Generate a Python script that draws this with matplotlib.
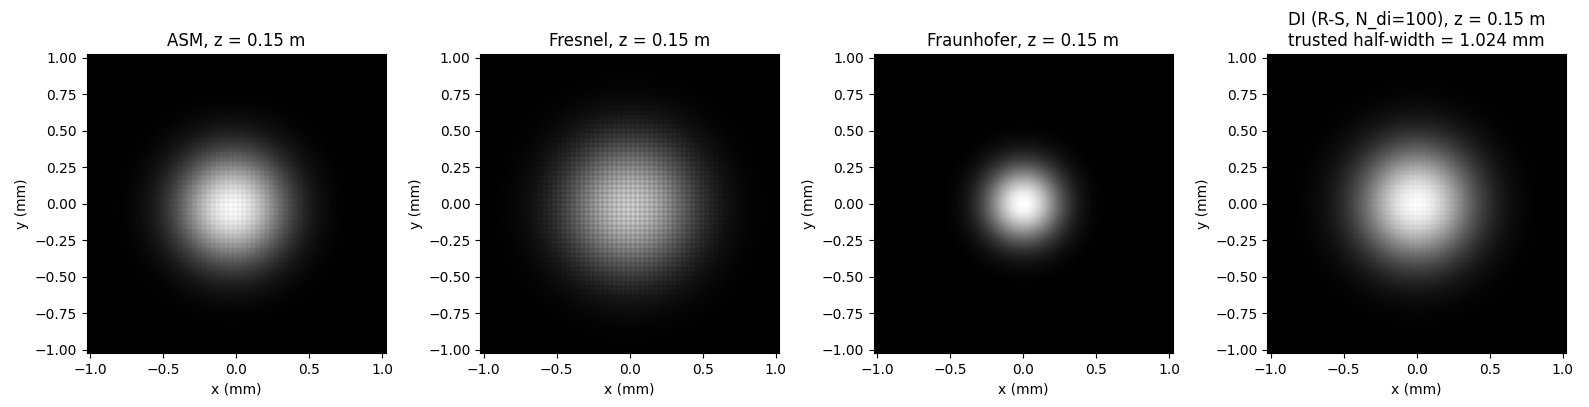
import numpy as np
import matplotlib.pyplot as plt

titles = ["ASM, z = 0.15 m", "Fresnel, z = 0.15 m", "Fraunhofer, z = 0.15 m",
          "DI (R-S, N_di=100), z = 0.15 m\ntrusted half-width = 1.024 mm"]
beam_w_mm = [0.52, 0.62, 0.36, 0.55]      # 1/e^2 intensity radius
center_mm = [(-0.03, -0.03), (0.0, -0.02), (0.0, 0.0), (0.0, 0.0)]
grid_ripple = [0.04, 0.12, 0.0, 0.02]     # pixel-grid artefact strength
peak_level = [1.0, 0.85, 1.0, 1.0]
half_width = 1.024
n = 128

x = np.linspace(-half_width, half_width, n)
X, Y = np.meshgrid(x, x)
ext = [-half_width, half_width, -half_width, half_width]

fig, axes = plt.subplots(1, 4, figsize=(15.89, 4.07), dpi=100)
for ax, t, w, c, rip, pk in zip(axes, titles, beam_w_mm, center_mm, grid_ripple, peak_level):
    I = np.exp(-2 * ((X - c[0])**2 + (Y - c[1])**2) / w**2)
    k = np.arange(n)
    mod = 1 - rip * (0.5 + 0.5 * np.cos(np.pi * k))
    I = I * mod[None, :] * mod[:, None]
    ax.imshow(pk * I / I.max(), cmap="gray", extent=ext, origin="lower", vmin=0, vmax=1)
    ax.set_title(t)
    ax.set_xlabel("x (mm)")
    ax.set_ylabel("y (mm)")
    ax.set_yticks(np.arange(-1.0, 1.01, 0.25))

plt.tight_layout()
plt.savefig("out.png", dpi=100)
